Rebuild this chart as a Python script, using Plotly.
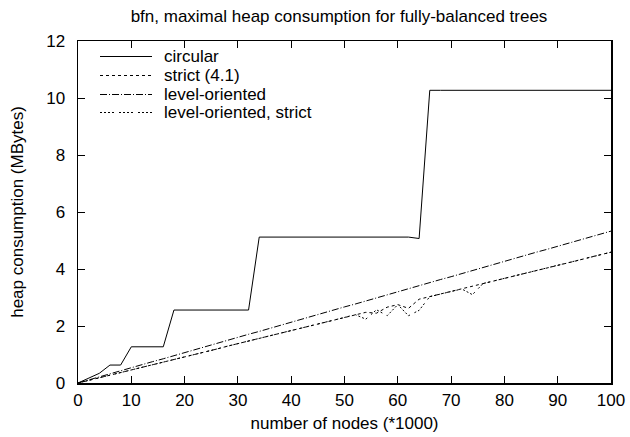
import plotly.graph_objects as go

nodes = [0, 2, 4, 6, 8, 10, 12, 14, 16, 18, 20, 22, 24, 26, 28, 30, 32, 34, 36, 38,
         40, 42, 44, 46, 48, 50, 52, 54, 56, 58, 60, 62, 64, 66, 68, 70, 72, 74, 76, 78,
         80, 82, 84, 86, 88, 90, 92, 94, 96, 98, 100]

circular = [0, 0.17, 0.34, 0.63, 0.63, 1.27, 1.27, 1.27, 1.27, 2.56, 2.56, 2.56, 2.56, 2.56, 2.56, 2.56, 2.56, 5.12, 5.12, 5.12,
            5.12, 5.12, 5.12, 5.12, 5.12, 5.12, 5.12, 5.12, 5.12, 5.12, 5.12, 5.12, 5.07, 10.27, 10.27, 10.27, 10.27, 10.27, 10.27, 10.27,
            10.27, 10.27, 10.27, 10.27, 10.27, 10.27, 10.27, 10.27, 10.27, 10.27, 10.27]

strict = [0, 0.09, 0.18, 0.28, 0.37, 0.46, 0.55, 0.64, 0.73, 0.83, 0.92, 1.01, 1.10, 1.19, 1.29, 1.38, 1.47, 1.56, 1.65, 1.74,
          1.84, 1.93, 2.02, 2.11, 2.20, 2.30, 2.39, 2.48, 2.45, 2.66, 2.75, 2.62, 2.94, 3.03, 3.12, 3.21, 3.30, 3.40, 3.49, 3.58,
          3.67, 3.76, 3.86, 3.95, 4.04, 4.13, 4.22, 4.31, 4.41, 4.50, 4.59]

level_oriented = [0, 0.11, 0.21, 0.32, 0.43, 0.53, 0.64, 0.75, 0.85, 0.96, 1.07, 1.17, 1.28, 1.39, 1.49, 1.60, 1.71, 1.81, 1.92, 2.03,
                  2.13, 2.24, 2.35, 2.45, 2.56, 2.67, 2.77, 2.88, 2.99, 3.09, 3.20, 3.31, 3.41, 3.52, 3.63, 3.73, 3.84, 3.95, 4.05, 4.16,
                  4.27, 4.37, 4.48, 4.59, 4.69, 4.80, 4.91, 5.01, 5.12, 5.23, 5.33]

level_oriented_strict = [0, 0.09, 0.18, 0.28, 0.37, 0.46, 0.55, 0.64, 0.73, 0.83, 0.92, 1.01, 1.10, 1.19, 1.29, 1.38, 1.47, 1.56, 1.65, 1.74,
                         1.84, 1.93, 2.02, 2.11, 2.20, 2.30, 2.40, 2.24, 2.57, 2.36, 2.75, 2.36, 2.55, 3.03, 3.12, 3.21, 3.30, 3.10, 3.49, 3.58,
                         3.67, 3.76, 3.86, 3.95, 4.04, 4.13, 4.22, 4.31, 4.41, 4.50, 4.59]

series_names = ["circular", "strict (4.1)", "level-oriented", "level-oriented, strict"]
series_values = [circular, strict, level_oriented, level_oriented_strict]

x_ticks = [0, 10, 20, 30, 40, 50, 60, 70, 80, 90, 100]
y_ticks = [0, 2, 4, 6, 8, 10, 12]

FONT = "Liberation Sans, Arial, sans-serif"
FS = 17
DASHES = ["solid", "3px,3px", "7px,2px,1px,2px", "2px,2px,2px,2px,2px,2px,2px,5px"]

W, H = 630, 437
ML, MR, MT, MB = 78, 19, 41, 54
PW, PH = W - ML - MR, H - MT - MB

fig = go.Figure()
for name, vals, dash in zip(series_names, series_values, DASHES):
    fig.add_trace(go.Scatter(x=nodes, y=vals, mode="lines", name=name, showlegend=False,
                             line=dict(color="black", width=1, dash=dash)))

# key in the upper left of the plot (line samples + labels)
row_y = [56.5, 75.5, 94.5, 112.5]   # px from figure top
for name, dash, ry in zip(series_names, DASHES, row_y):
    yp = (H - MB - ry) / PH
    fig.add_shape(type="line", xref="paper", yref="paper",
                  x0=(100 - ML) / PW, x1=(152 - ML) / PW, y0=yp, y1=yp,
                  line=dict(color="black", width=1, dash=dash))
    fig.add_annotation(xref="paper", yref="paper", x=(162 - ML) / PW, y=yp,
                       xanchor="left", yanchor="middle", showarrow=False, text=name,
                       font=dict(family=FONT, size=FS, color="black"))

axis_common = dict(showline=True, linecolor="black", linewidth=1.5, mirror="allticks",
                   ticks="inside", ticklen=7, tickwidth=1, tickcolor="black",
                   showgrid=False, zeroline=False,
                   tickfont=dict(family=FONT, size=FS, color="black"))

fig.update_layout(
    width=W, height=H,
    margin=dict(l=ML, r=MR, t=MT, b=MB, autoexpand=False),
    paper_bgcolor="white", plot_bgcolor="white",
    font=dict(family=FONT, size=FS, color="black"),
    title=dict(text="bfn, maximal heap consumption for fully-balanced trees",
               x=339 / W, xanchor="center", y=1 - 16 / H, yanchor="middle",
               font=dict(family=FONT, size=FS, color="black")),
    xaxis=dict(range=[0, 100], tickvals=x_ticks, ticktext=[str(v) for v in x_ticks],
               ticklabelstandoff=1,
               title=dict(text="number of nodes (*1000)", standoff=8,
                          font=dict(family=FONT, size=FS, color="black")),
               **axis_common),
    yaxis=dict(range=[0, 12], tickvals=y_ticks, ticktext=[str(v) for v in y_ticks],
               ticklabelstandoff=8,
               title=dict(text="heap consumption (MBytes)", standoff=18,
                          font=dict(family=FONT, size=FS, color="black")),
               **axis_common),
    showlegend=False,
)

# remove the browser's default 8px page margin so the 630x437 figure fills the window
fig.write_html("out.html",
               config={"displayModeBar": False, "staticPlot": True},
               post_script="document.body.style.margin='0';document.body.style.overflow='hidden';")
